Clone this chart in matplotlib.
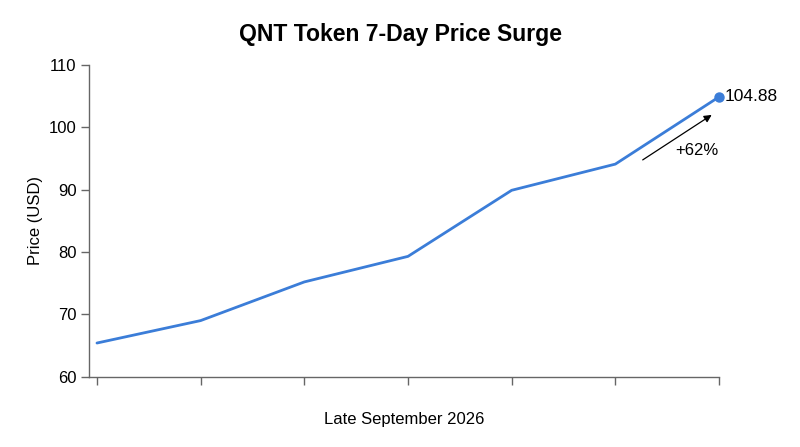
import matplotlib
matplotlib.use("Agg")
import matplotlib.pyplot as plt
from matplotlib.transforms import offset_copy

plt.rcParams['font.family'] = ['Liberation Sans', 'DejaVu Sans']

days = [0, 1, 2, 3, 4, 5, 6]
prices = [65.4, 69.0, 75.2, 79.3, 89.9, 94.1, 104.88]
yticks = [60, 70, 80, 90, 100, 110]
title = "QNT Token 7-Day Price Surge"
xlabel = "Late September 2026"
ylabel = "Price (USD)"
end_label = "104.88"
change_label = "+62%"

line_color = "#3b7dd8"
axis_color = "#666666"

fig = plt.figure(figsize=(8, 4.47), dpi=100)
ax = fig.add_axes([0.11125, 0.1573, 0.7875, 0.6973])

ax.plot(days, prices, color=line_color, lw=2.0, solid_capstyle='round', solid_joinstyle='round')
ax.plot([days[-1]], [prices[-1]], 'o', color=line_color, ms=6.5, clip_on=False)

ax.set_xlim(-0.077, 6)
ax.set_ylim(60, 110)
ax.set_xticks(days)
ax.set_xticklabels([])
ax.set_yticks(yticks)
ax.set_yticklabels([str(t) for t in yticks], fontsize=12)

for s in ['top', 'right']:
    ax.spines[s].set_visible(False)
for s in ['left', 'bottom']:
    ax.spines[s].set_color(axis_color)
    ax.spines[s].set_linewidth(1.0)
ax.tick_params(axis='both', color=axis_color, length=6, width=1.0, labelcolor='black')
ax.tick_params(axis='y', pad=3)

ax.set_title(title, fontsize=16.6, fontweight='bold', pad=17, x=0.494)
ax.set_xlabel(xlabel, fontsize=12, labelpad=16)
ax.set_ylabel(ylabel, fontsize=12, labelpad=4)

xl, yl = days[-1], prices[-1]
# end value label
ax.text(xl, yl, end_label, fontsize=12.5,
        transform=offset_copy(ax.transData, fig=fig, x=6, y=0, units='dots'),
        ha='left', va='center')

# arrow
head_tr = offset_copy(ax.transData, fig=fig, x=-7.3, y=-18, units='dots')
tail_tr = offset_copy(ax.transData, fig=fig, x=-76.3, y=-63, units='dots')
ax.annotate('', xy=(xl, yl), xycoords=head_tr, xytext=(xl, yl), textcoords=tail_tr,
            arrowprops=dict(arrowstyle='-|>', color='black', lw=0.9,
                            mutation_scale=11, shrinkA=0, shrinkB=0))
ax.text(xl, yl, change_label, fontsize=12,
        transform=offset_copy(ax.transData, fig=fig, x=-22, y=-54, units='dots'),
        ha='center', va='center')

fig.savefig("out.png", dpi=100)
